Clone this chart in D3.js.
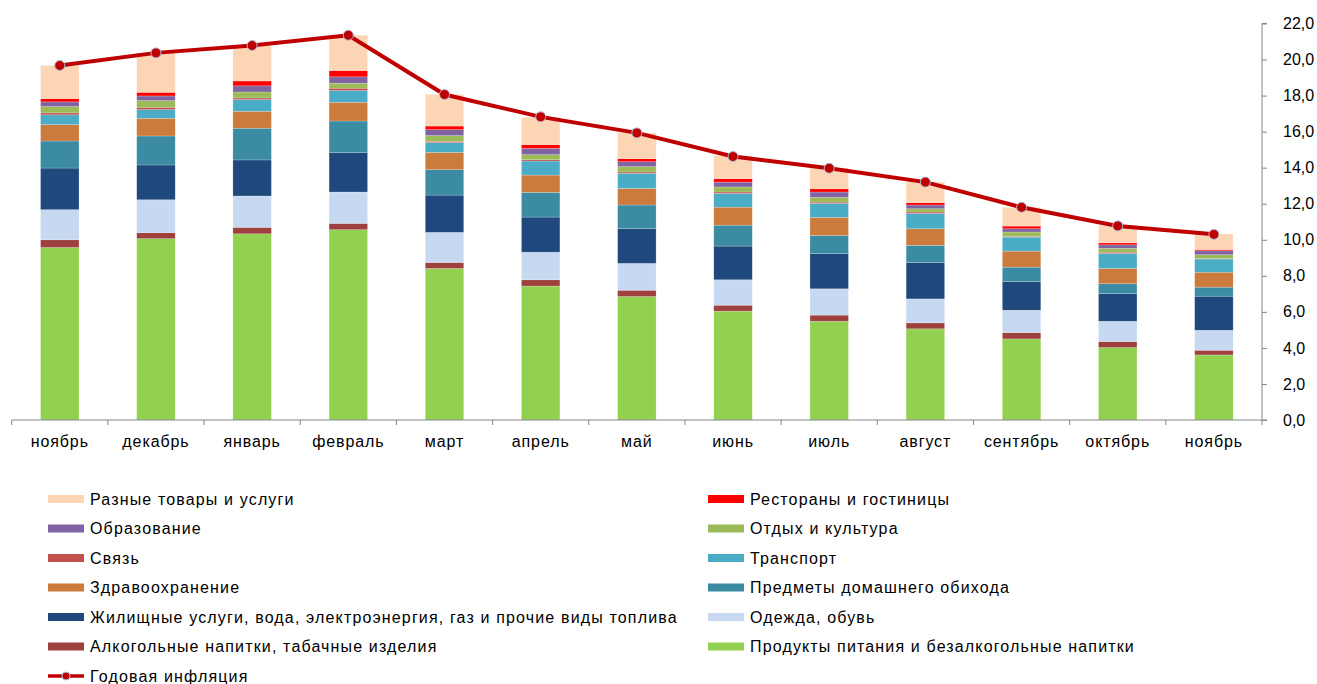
<!DOCTYPE html>
<html>
<head>
<meta charset="utf-8">
<script src="https://cdn.jsdelivr.net/npm/d3@7"></script>
<style>
    body { margin: 0; background: #fff; }
    .axis text { font-family: "Liberation Sans", Arial, sans-serif; font-size: 16px; fill: #000; }
    .axis path, .axis line { stroke: #868686; }
    .xlabels text { letter-spacing: 0.9px; }
    .legend text { font-family: "Liberation Sans", Arial, sans-serif; font-size: 16px; fill: #000; letter-spacing: 1.15px; }
</style>
</head>
<body>
<div class="chart-container"></div>
<script>
// months on the x axis
const months = ["ноябрь", "декабрь", "январь", "февраль", "март", "апрель", "май",
    "июнь", "июль", "август", "сентябрь", "октябрь", "ноябрь"];

// contributions to annual inflation, bottom to top of each bar
const food        = [9.57, 10.06, 10.33, 10.56, 8.41, 7.43, 6.85, 6.04, 5.48, 5.06, 4.50, 4.02, 3.61];
const alcohol     = [0.43, 0.33, 0.36, 0.35, 0.33, 0.35, 0.35, 0.33, 0.34, 0.33, 0.35, 0.33, 0.26];
const clothing    = [1.67, 1.83, 1.74, 1.74, 1.67, 1.53, 1.49, 1.41, 1.46, 1.33, 1.24, 1.13, 1.11];
const housing     = [2.31, 1.93, 2.00, 2.20, 2.07, 1.95, 1.94, 1.87, 1.96, 2.02, 1.60, 1.54, 1.89];
const household   = [1.50, 1.61, 1.76, 1.74, 1.41, 1.37, 1.30, 1.16, 1.00, 0.95, 0.79, 0.54, 0.50];
const health      = [0.91, 0.98, 0.94, 1.04, 0.96, 0.96, 0.92, 1.00, 1.00, 0.92, 0.89, 0.85, 0.83];
const transport   = [0.54, 0.48, 0.65, 0.65, 0.54, 0.78, 0.84, 0.76, 0.78, 0.85, 0.78, 0.83, 0.73];
const communication = [0.11, 0.13, 0.09, 0.13, 0.07, 0.07, 0.07, 0.08, 0.07, 0.08, 0.04, 0.07, 0.03];
const recreation  = [0.35, 0.37, 0.33, 0.28, 0.32, 0.28, 0.30, 0.28, 0.26, 0.18, 0.24, 0.21, 0.21];
const education   = [0.26, 0.26, 0.34, 0.35, 0.33, 0.35, 0.27, 0.27, 0.30, 0.21, 0.18, 0.20, 0.22];
const restaurants = [0.18, 0.20, 0.27, 0.35, 0.20, 0.21, 0.17, 0.19, 0.18, 0.13, 0.15, 0.11, 0.07];
const misc        = [1.84, 2.19, 1.97, 1.96, 1.75, 1.52, 1.43, 1.28, 1.15, 1.14, 1.04, 0.97, 0.87];

// annual inflation line
const inflation = [19.67, 20.37, 20.78, 21.35, 18.06, 16.82, 15.93, 14.62, 13.97, 13.20, 11.80, 10.77, 10.30];

const yTicks = [0, 2, 4, 6, 8, 10, 12, 14, 16, 18, 20, 22];

const seriesNames = ["Продукты питания и безалкогольные напитки", "Алкогольные напитки, табачные изделия",
    "Одежда, обувь", "Жилищные услуги, вода, электроэнергия, газ и прочие виды топлива",
    "Предметы домашнего обихода", "Здравоохранение", "Транспорт", "Связь", "Отдых и культура",
    "Образование", "Рестораны и гостиницы", "Разные товары и услуги"];
const seriesColors = ["#92D050", "#9E413E", "#C6D9F1", "#1F497D", "#3B8BA3", "#CB7B3B",
    "#4BACC6", "#C0504D", "#9BBB59", "#8064A2", "#FF0000", "#FCD5B5"];
const seriesValues = [food, alcohol, clothing, housing, household, health, transport,
    communication, recreation, education, restaurants, misc];
const lineName = "Годовая инфляция";

const width = 1317;
const height = 684;
const plotLeft = 11.7, plotRight = 1262, plotTop = 23.5, plotBottom = 420;

let svg = d3.select(".chart-container").append("svg")
    .attr("width", width)
    .attr("height", height);

// table for d3.stack: one row per month
let rows = months.map((m, i) => {
    let row = { idx: i };
    seriesValues.forEach((vals, k) => { row["s" + k] = vals[i]; });
    return row;
});
let keys = seriesValues.map((_, k) => "s" + k);
let stacked = d3.stack().keys(keys)(rows);

let xScale = d3.scaleBand()
    .domain(d3.range(months.length))
    .range([plotLeft, plotRight])
    .paddingInner(0.6)
    .paddingOuter(0.3);
let yScale = d3.scaleLinear()
    .domain([0, 22])
    .range([plotBottom, plotTop]);

// bars
svg.append("g")
    .selectAll("g")
    .data(stacked)
    .enter()
    .append("g")
    .attr("fill", (d, k) => seriesColors[k])
    .selectAll("rect")
    .data(d => d)
    .enter()
    .append("rect")
    .attr("x", d => xScale(d.data.idx))
    .attr("y", d => yScale(d[1]))
    .attr("width", xScale.bandwidth())
    .attr("height", d => yScale(d[0]) - yScale(d[1]))
    .attr("stroke", "#ffffff")
    .attr("stroke-opacity", 0.35)
    .attr("stroke-width", 0.6);

// x axis: ticks between categories
let xEdges = d3.scaleLinear().domain([0, months.length]).range([plotLeft, plotRight]);
let xAxisG = svg.append("g").attr("class", "axis xlabels");
xAxisG.append("line")
    .attr("x1", plotLeft).attr("x2", plotRight)
    .attr("y1", plotBottom).attr("y2", plotBottom);
xAxisG.selectAll(".tk")
    .data(d3.range(months.length + 1))
    .enter()
    .append("line")
    .attr("x1", d => xEdges(d)).attr("x2", d => xEdges(d))
    .attr("y1", plotBottom).attr("y2", plotBottom + 5);
xAxisG.selectAll(".lbl")
    .data(months)
    .enter()
    .append("text")
    .attr("x", (d, i) => xScale(i) + xScale.bandwidth() / 2)
    .attr("y", plotBottom + 27)
    .attr("text-anchor", "middle")
    .text(d => d);

// right y axis
let yAxis = d3.axisRight(yScale)
    .tickValues(yTicks)
    .tickSize(5)
    .tickPadding(16)
    .tickFormat(d => d3.format(".1f")(d).replace(".", ","));
svg.append("g")
    .attr("class", "axis")
    .attr("transform", "translate(" + plotRight + ",0)")
    .call(yAxis)
    .call(g => g.select(".domain").attr("d", "M5," + plotTop + "H0V" + plotBottom + "H5"));

// inflation line
let line = d3.line()
    .x((d, i) => xScale(i) + xScale.bandwidth() / 2)
    .y(d => yScale(d));
svg.append("path")
    .datum(inflation)
    .attr("fill", "none")
    .attr("stroke", "#C00000")
    .attr("stroke-width", 4)
    .attr("d", line);
svg.selectAll(".dot")
    .data(inflation)
    .enter()
    .append("circle")
    .attr("cx", (d, i) => xScale(i) + xScale.bandwidth() / 2)
    .attr("cy", d => yScale(d))
    .attr("r", 5)
    .attr("fill", "#C00000")
    .attr("stroke", "#A9BCD8")
    .attr("stroke-width", 1);

// legend: reverse of stack order, two columns, then the line
let legendItems = seriesNames.map((n, k) => ({ name: n, color: seriesColors[k] })).reverse();
let legend = svg.append("g").attr("class", "legend");
legendItems.forEach((item, j) => {
    let col = j % 2, row = Math.floor(j / 2);
    let lx = col === 0 ? 48 : 708;
    let ly = 499 + row * 29.5;
    legend.append("rect")
        .attr("x", lx).attr("y", ly - 4)
        .attr("width", 36).attr("height", 8)
        .attr("fill", item.color);
    legend.append("text")
        .attr("x", lx + 42).attr("y", ly)
        .attr("dy", "0.36em")
        .text(item.name);
});
let lly = 499 + 6 * 29.5;
legend.append("line")
    .attr("x1", 48).attr("x2", 84)
    .attr("y1", lly).attr("y2", lly)
    .attr("stroke", "#C00000").attr("stroke-width", 3.5);
legend.append("circle")
    .attr("cx", 66).attr("cy", lly).attr("r", 4)
    .attr("fill", "#C00000").attr("stroke", "#A9BCD8");
legend.append("text")
    .attr("x", 90).attr("y", lly)
    .attr("dy", "0.36em")
    .text(lineName);
</script>
</body>
</html>
